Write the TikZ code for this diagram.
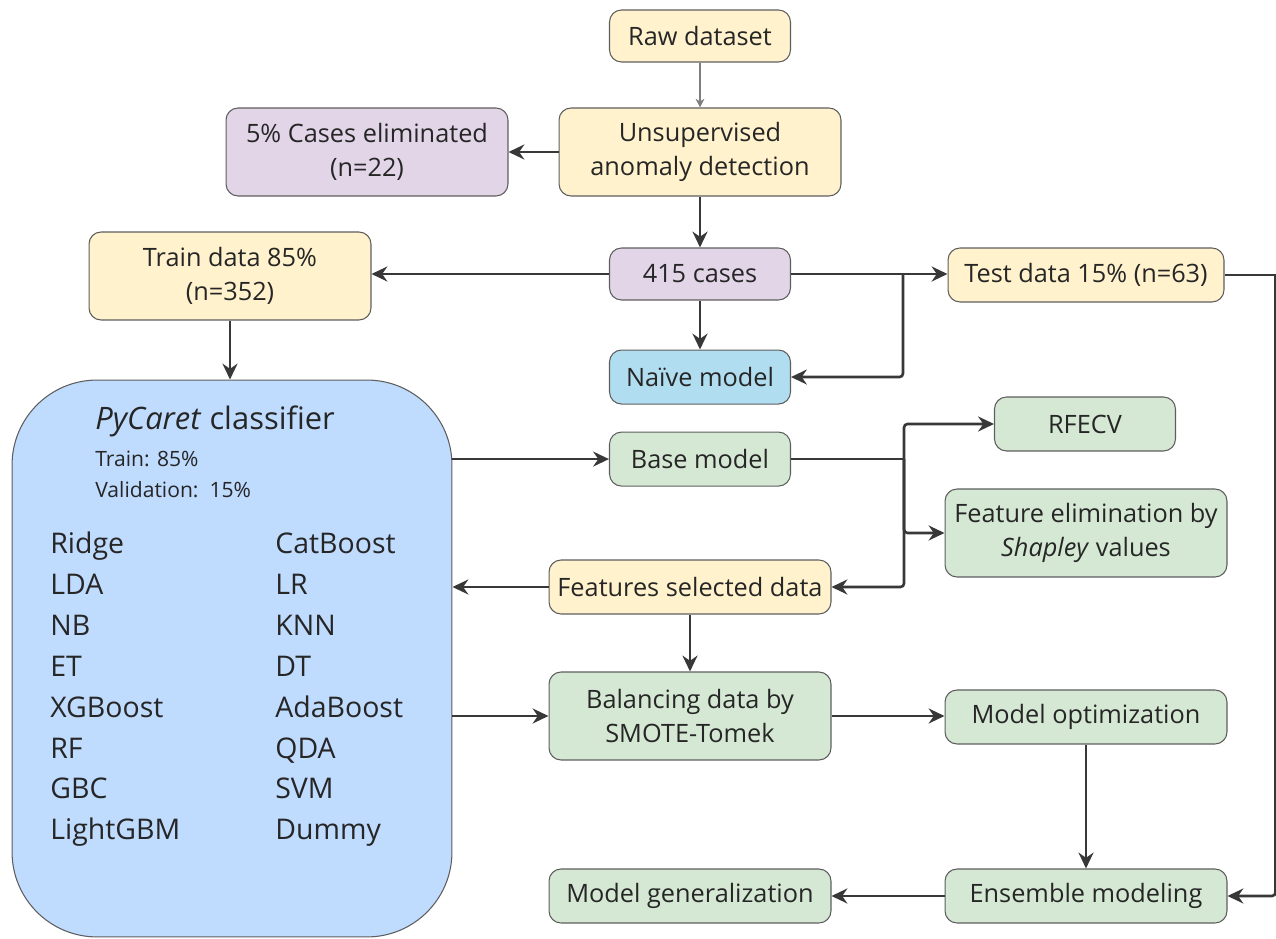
\documentclass[tikz,border=0pt]{standalone}
\usepackage{fontspec}
\setmainfont{Open Sans}
\usepackage{tikz}
\usetikzlibrary{positioning, arrows.meta, calc}
\definecolor{ink}{HTML}{262626}
\definecolor{edge}{HTML}{5E5E5E}
\definecolor{wire}{HTML}{383838}
\definecolor{sand}{HTML}{FFF2CC}
\definecolor{lilac}{HTML}{E1D5E7}
\definecolor{mint}{HTML}{D5E8D4}
\definecolor{sky}{HTML}{B1DDF0}
\definecolor{pale}{HTML}{BFDBFE}
\tikzset{
  box/.style={
    rectangle, rounded corners=0.24cm, draw=edge, line width=0.6pt,
    text=ink, align=center, inner sep=0pt,
    font=\fontsize{14.4}{19.3}\selectfont
  },
  narrow/.style={minimum width=3.62cm},
  wide/.style={minimum width=5.64cm},
  short/.style={minimum height=1.08cm},
  tall/.style={minimum height=1.76cm},
  databox/.style={box, fill=sand},
  cutbox/.style={box, fill=lilac},
  stepbox/.style={box, fill=mint},
  naivebox/.style={box, fill=sky},
  flow/.style={draw=wire, line width=1.5pt, rounded corners=2pt, -{Stealth[length=9pt,width=8.5pt]}},
  wire only/.style={draw=wire, line width=1.5pt, rounded corners=2pt},
  thin flow/.style={draw=edge!80, line width=0.6pt, -{Stealth[length=5pt,width=5pt]}},
  listtxt/.style={anchor=base west, inner sep=0pt, text=ink, font=\fontsize{16.2}{20}\selectfont},
}

\begin{document}
\begin{tikzpicture}[x=0.02cm, y=-0.02cm]
  \useasboundingbox (0,0) rectangle (1276,939);

  % top chain
  \node[databox, narrow, minimum height=1.04cm] (RAW) at (700,36) {Raw dataset};
  \node[databox, wide, tall] (ANOM) at (700,152) {Unsupervised\\anomaly detection};
  \node[cutbox, wide, tall] (ELIM) at (367,152) {5\% Cases eliminated\\(n=22)};
  \node[cutbox, narrow, minimum height=1.04cm] (CASES) at (700,274) {415 cases};
  \node[databox, wide, tall] (TRAIN) at (230,276) {Train data 85\%\\(n=352)};
  \node[databox, minimum width=5.52cm, short] (TEST) at (1086,275) {Test data 15\% (n=63)};
  \node[naivebox, narrow, short, below=0.98cm of CASES] (NAIVE) {Na\"ive model};
  \node[stepbox, narrow, short, below=0.54cm of NAIVE] (BASE) {Base model};

  % PyCaret block
  \node[rectangle, rounded corners=1.7cm, draw=edge, line width=0.6pt, fill=pale,
        minimum width=8.8cm, minimum height=11.14cm] (PYC) at (232,658.5) {};
  \node[anchor=base west, inner sep=0pt, text=ink, font=\fontsize{17.6}{20}\selectfont]
    (PYCT) at (95,430) {\textit{PyCaret} classifier};
  \node[anchor=base west, inner sep=0pt, text=ink, font=\fontsize{12}{14}\selectfont]
    (PYCA) at (95,467) {Train: 85\%};
  \node[anchor=base west, inner sep=0pt, text=ink, font=\fontsize{12}{14}\selectfont]
    (PYCB) at (95,498) {Validation:\ \ 15\%};
  \foreach \m [count=\i] in {Ridge,LDA,NB,ET,XGBoost,RF,GBC,LightGBM}
    \node[listtxt] (LA\i) at (50,{554+40.8*(\i-1)}) {\m};
  \foreach \m [count=\i] in {CatBoost,LR,KNN,DT,AdaBoost,QDA,SVM,Dummy}
    \node[listtxt] (LB\i) at (275,{554+40.8*(\i-1)}) {\m};

  % feature selection and modelling
  \node[stepbox, narrow, short] (RFECV) at (1085,424) {RFECV};
  \node[stepbox, wide, tall] (SHAP) at (1086,533) {Feature elimination by\\\textit{Shapley} values};
  \node[databox, wide, short] (FSEL) at (690,587) {Features selected data};
  \node[stepbox, wide, tall] (BAL) at (690,716) {Balancing data by\\SMOTE-Tomek};
  \node[stepbox, wide, short] (OPT) at (1086,717) {Model optimization};
  \node[stepbox, wide, short] (ENS) at (1086,896) {Ensemble modeling};
  \node[stepbox, wide, short] (GEN) at (690,896) {Model generalization};

  \coordinate (J1) at ($(CASES.east)+(112,0)$);
  \coordinate (J2) at ($(BASE.east)+(113,0)$);
  \coordinate (R1) at ($(TEST.east)+(51,0)$);

  \draw[thin flow] (RAW) -- (ANOM);
  \draw[flow] (ANOM) -- (ELIM);
  \draw[flow] (ANOM) -- (CASES);
  \draw[flow] (CASES.west) -- (CASES.west -| TRAIN.east);
  \draw[flow] (CASES.east) -- (CASES.east -| TEST.west);
  \draw[flow] (CASES) -- (NAIVE);
  \draw[flow] (J1) |- (NAIVE.east);
  \draw[flow] (TRAIN) -- (TRAIN |- PYC.north);
  \draw[flow] (BASE.west -| PYC.east) -- (BASE.west);
  \draw[wire only] (BASE.east) -- (J2);
  \draw[flow] (J2) |- (RFECV.west);
  \draw[flow] (J2) |- (SHAP.west);
  \draw[flow] (J2) |- (FSEL.east);
  \draw[flow] (FSEL.west) -- (FSEL.west -| PYC.east);
  \draw[flow] (FSEL) -- (BAL);
  \draw[flow] (BAL.west -| PYC.east) -- (BAL.west);
  \draw[flow] (BAL.east) -- (BAL.east -| OPT.west);
  \draw[flow] (OPT) -- (ENS);
  \draw[wire only] (TEST.east) -- (R1);
  \draw[flow] (R1) |- (ENS.east);
  \draw[flow] (ENS) -- (GEN);
\end{tikzpicture}
\end{document}
